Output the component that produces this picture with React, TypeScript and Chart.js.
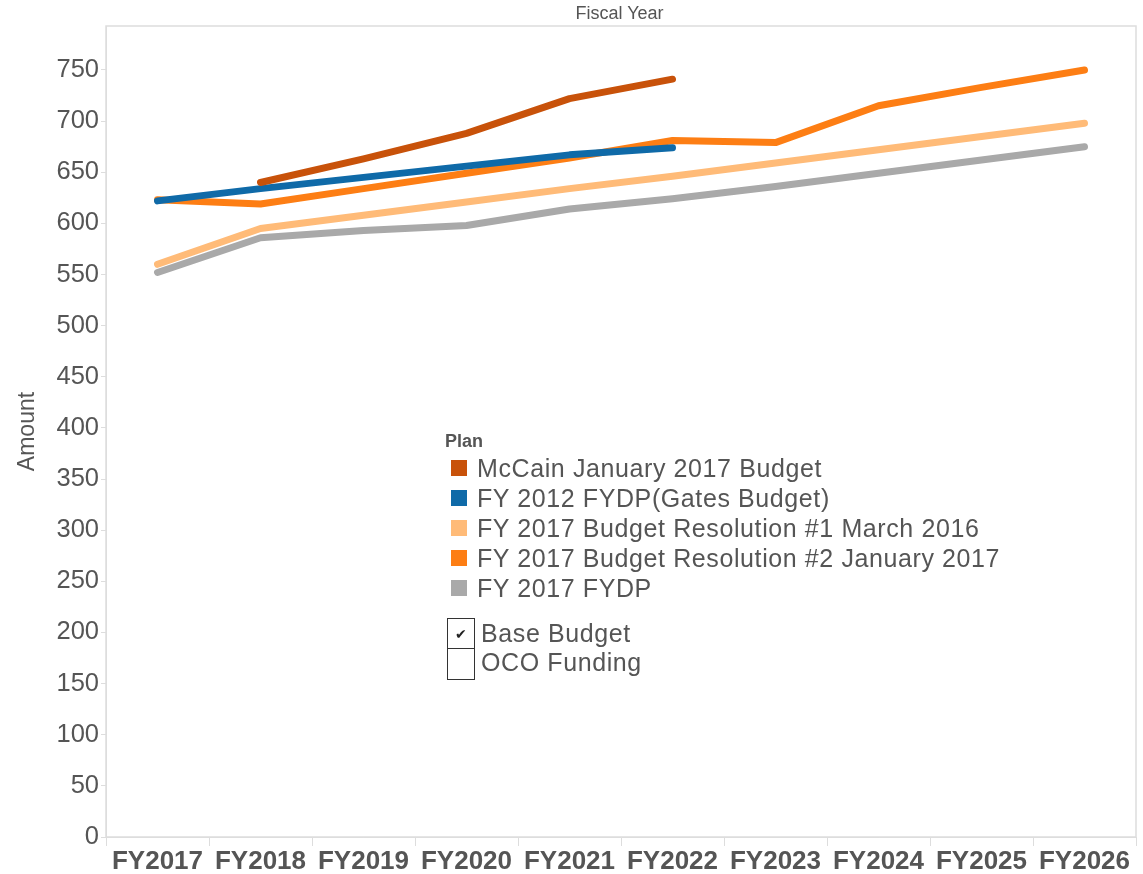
import React, { useEffect, useRef } from "react";
import { Chart, registerables } from "chart.js";

Chart.register(...registerables);

const categories = ["FY2017", "FY2018", "FY2019", "FY2020", "FY2021", "FY2022", "FY2023", "FY2024", "FY2025", "FY2026"];
const mccain = [null, 640, 663, 688, 722, 741, null, null, null, null];
const gates = [622, 634, 645, 656, 667, 674, null, null, null, null];
const res1 = [560, 595, 608, 621, 634, 646, 659, 672, 685, 698];
const res2 = [623, 619, 634, 649, 664, 681, 679, 715, 733, 750];
const fydp = [552, 586, 593, 598, 614, 624, 636, 649, 662, 675];
const yTicks = [0, 50, 100, 150, 200, 250, 300, 350, 400, 450, 500, 550, 600, 650, 700, 750];

const seriesNames = [
  "McCain January 2017 Budget",
  "FY 2012 FYDP(Gates Budget)",
  "FY 2017 Budget Resolution #1 March 2016",
  "FY 2017 Budget Resolution #2 January 2017",
  "FY 2017 FYDP",
];
const seriesColors = ["#c8520a", "#0f6aa8", "#ffbb78", "#fd7e14", "#a9a9a9"];

const font = "'Liberation Sans', Arial, sans-serif";

export default function App() {
  const ref = useRef<HTMLCanvasElement | null>(null);

  useEffect(() => {
    if (!ref.current) return;
    const values = [mccain, gates, res1, res2, fydp];
    const borderPlugin = {
      id: "plotBorder",
      beforeDatasetsDraw(chart: any) {
        const { ctx, chartArea } = chart;
        ctx.save();
        ctx.strokeStyle = "#dddddd";
        ctx.lineWidth = 1.5;
        ctx.strokeRect(chartArea.left, chartArea.top, chartArea.right - chartArea.left, chartArea.bottom - chartArea.top);
        ctx.restore();
      },
    };
    const chart = new Chart(ref.current, {
      type: "line",
      data: {
        labels: categories,
        datasets: values.map((v, i) => ({
          label: seriesNames[i],
          data: v,
          borderColor: seriesColors[i],
          backgroundColor: seriesColors[i],
          borderWidth: 7,
          pointRadius: 0,
          borderCapStyle: "round" as const,
          borderJoinStyle: "round" as const,
          tension: 0,
          spanGaps: false,
        })),
      },
      options: {
        animation: false,
        responsive: false,
        maintainAspectRatio: false,
        layout: { padding: { top: 26, right: 7, left: 0, bottom: 0 } },
        plugins: {
          legend: { display: false },
          tooltip: { enabled: false },
        },
        scales: {
          x: {
            offset: true,
            grid: {
              offset: true,
              drawOnChartArea: false,
              tickLength: 9,
              color: "#dddddd",
            },
            border: { display: true, color: "#dddddd" },
            ticks: {
              color: "#555555",
              font: { family: font, size: 26, weight: "bold" },
              padding: 0,
              maxRotation: 0,
              autoSkip: false,
            },
            afterFit(scale: any) {
              scale.height = 37;
            },
          },
          y: {
            min: 0,
            max: 793,
            afterBuildTicks(scale: any) {
              scale.ticks = yTicks.map((v) => ({ value: v }));
            },
            grid: {
              drawOnChartArea: false,
              tickLength: 5,
              color: "#dddddd",
            },
            border: { display: true, color: "#dddddd" },
            ticks: {
              color: "#555555",
              font: { family: font, size: 25.5 },
              padding: 2,
            },
            title: {
              display: true,
              text: "Amount",
              color: "#555555",
              font: { family: font, size: 23 },
              padding: { top: 14, bottom: 0 },
            },
            afterFit(scale: any) {
              scale.width = 106;
            },
          },
        },
      },
      plugins: [borderPlugin],
    });
    return () => chart.destroy();
  }, []);

  const textColor = "#555555";
  const legendText = { fontSize: 25, letterSpacing: 0.6, color: textColor, whiteSpace: "nowrap" as const };
  return (
    <div style={{ position: "absolute", left: 0, top: 0, width: 1143, height: 874, background: "#fff", fontFamily: font }}>
      <canvas ref={ref} width={1143} height={874} style={{ display: "block" }} />
      <div style={{ position: "absolute", left: 0, width: 1143, top: 3, textAlign: "center", fontSize: 18, color: textColor, paddingLeft: 96, boxSizing: "border-box" }}>
        Fiscal Year
      </div>
      <div style={{ position: "absolute", left: 445, top: 431, fontSize: 18, fontWeight: "bold", color: textColor }}>Plan</div>
      {seriesNames.map((n, i) => (
        <div key={n} style={{ position: "absolute", left: 451, top: 453 + i * 30, height: 30, display: "flex", alignItems: "center", ...legendText }}>
          <span style={{ display: "inline-block", width: 16, height: 16, background: seriesColors[i], marginRight: 10 }} />
          <span>{n}</span>
        </div>
      ))}
      <div style={{ position: "absolute", left: 447, top: 618, width: 28, height: 31, border: "1.5px solid #333", boxSizing: "border-box", display: "flex", alignItems: "center", justifyContent: "center", fontSize: 14, color: "#222" }}>✔</div>
      <div style={{ position: "absolute", left: 447, top: 648, width: 28, height: 32, border: "1.5px solid #333", borderTop: "none", boxSizing: "border-box" }} />
      <div style={{ position: "absolute", left: 481, top: 618, height: 30, display: "flex", alignItems: "center", ...legendText }}>Base Budget</div>
      <div style={{ position: "absolute", left: 481, top: 647, height: 30, display: "flex", alignItems: "center", ...legendText }}>OCO Funding</div>
    </div>
  );
}
